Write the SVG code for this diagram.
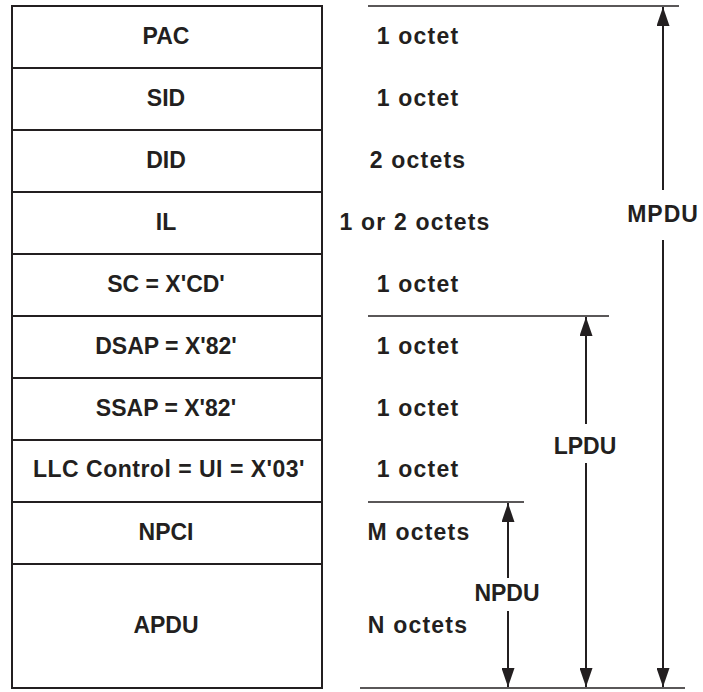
<svg xmlns="http://www.w3.org/2000/svg" width="703" height="692" viewBox="0 0 703 692">
<style>
.t{font-family:"Liberation Sans",Arial,sans-serif;font-weight:bold;font-size:23px;fill:#231f20;text-anchor:middle}
.o{letter-spacing:1.2px}
.box{fill:#fff;stroke:#231f20;stroke-width:2}
.rule{stroke:#231f20;stroke-width:1.6;fill:none}
.arr{stroke:#231f20;stroke-width:2;fill:none;marker-end:url(#ah)}
</style>
<defs>
<marker id="ah" markerUnits="userSpaceOnUse" markerWidth="19" markerHeight="13" refX="19" refY="6.5" orient="auto">
<path d="M0,0 L19,6.5 L0,13 z" fill="#231f20"/>
</marker>
</defs>
<rect width="703" height="692" fill="#fff"/>
<g id="fields">
<g id="pac"><rect class="box" x="12" y="6" width="310" height="62"/><text class="t" x="166" y="44">PAC</text><text class="t o" x="418" y="44">1 octet</text></g>
<g id="sid"><rect class="box" x="12" y="68" width="310" height="62"/><text class="t" x="166" y="106">SID</text><text class="t o" x="418" y="106">1 octet</text></g>
<g id="did"><rect class="box" x="12" y="130" width="310" height="62"/><text class="t" x="166" y="168">DID</text><text class="t o" x="418" y="168">2 octets</text></g>
<g id="il"><rect class="box" x="12" y="192" width="310" height="62"/><text class="t" x="166" y="230">IL</text><text class="t o" x="415" y="230">1 or 2 octets</text></g>
<g id="sc"><rect class="box" x="12" y="254" width="310" height="62"/><text class="t" x="166" y="292">SC = X'CD'</text><text class="t o" x="418" y="292">1 octet</text></g>
<g id="dsap"><rect class="box" x="12" y="316" width="310" height="62"/><text class="t" x="166" y="354">DSAP = X'82'</text><text class="t o" x="418" y="354">1 octet</text></g>
<g id="ssap"><rect class="box" x="12" y="378" width="310" height="62"/><text class="t" x="166" y="416">SSAP = X'82'</text><text class="t o" x="418" y="416">1 octet</text></g>
<g id="llc"><rect class="box" x="12" y="440" width="310" height="62"/><text class="t" x="169" y="477" style="letter-spacing:0.5px">LLC Control = UI = X'03'</text><text class="t o" x="418" y="477">1 octet</text></g>
<g id="npci"><rect class="box" x="12" y="502" width="310" height="62"/><text class="t" x="166" y="540">NPCI</text><text class="t o" x="419" y="540">M octets</text></g>
<g id="apdu"><rect class="box" x="12" y="564" width="310" height="124"/><text class="t" x="166" y="633">APDU</text><text class="t o" x="418" y="633">N octets</text></g>
</g>
<g id="connectors">
<line class="rule" x1="368" y1="6" x2="679" y2="6"/>
<line class="rule" x1="368" y1="316" x2="609" y2="316"/>
<line class="rule" x1="368" y1="502" x2="524" y2="502"/>
<line class="rule" x1="360" y1="688" x2="685" y2="688"/>
<line class="arr" x1="663" y1="190" x2="663" y2="7"/>
<line class="arr" x1="663" y1="240" x2="663" y2="687"/>
<line class="arr" x1="586" y1="424" x2="586" y2="317"/>
<line class="arr" x1="586" y1="463" x2="586" y2="687"/>
<line class="arr" x1="508" y1="578" x2="508" y2="503"/>
<line class="arr" x1="508" y1="611" x2="508" y2="687"/>
</g>
<g id="labels">
<text class="t" x="663" y="222" style="letter-spacing:1px">MPDU</text>
<text class="t" x="585" y="454">LPDU</text>
<text class="t" x="507" y="601">NPDU</text>
</g>
</svg>
